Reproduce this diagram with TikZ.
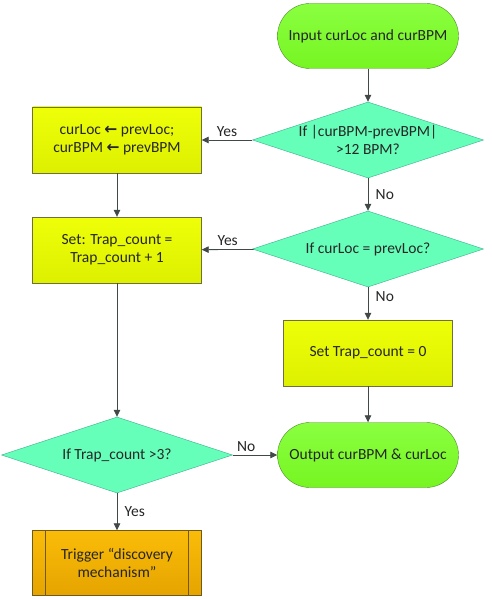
\documentclass[tikz,border=0pt]{standalone}
\usepackage{fontspec}
\setmainfont{Carlito}
\newfontfamily\arrowfont{DejaVu Sans}
\usetikzlibrary{shapes.geometric,arrows.meta}

\definecolor{termtop}{HTML}{8AFF40}
\definecolor{termbot}{HTML}{76F522}
\definecolor{termedge}{HTML}{4E8A2C}
\definecolor{decfill}{HTML}{66FFBA}
\definecolor{decedge}{HTML}{3AAE8A}
\definecolor{proctop}{HTML}{EEFF08}
\definecolor{procbot}{HTML}{DDF000}
\definecolor{procedge}{HTML}{6E6E40}
\definecolor{subtop}{HTML}{FABC08}
\definecolor{subbot}{HTML}{E6A400}
\definecolor{subedge}{HTML}{6E5A20}
\definecolor{flowline}{HTML}{404848}

\begin{document}
\begin{tikzpicture}[x=1pt, y=-1pt,
    font=\fontsize{15.5}{18}\selectfont, text=black!85,
    term/.style={rectangle, rounded corners=32.5pt, draw=termedge, top color=termtop, bottom color=termbot, minimum width=181pt, minimum height=65pt},
    dec/.style={diamond, draw=decedge, fill=decfill, minimum width=231pt, minimum height=76pt, inner sep=0pt},
    proc/.style={rectangle, draw=procedge, top color=proctop, bottom color=procbot, minimum width=169pt, minimum height=66pt, align=center},
    subproc/.style={rectangle, draw=subedge, top color=subtop, bottom color=subbot, minimum width=169pt, minimum height=65pt, align=center,
        path picture={
            \draw[subedge] ([xshift=13pt]path picture bounding box.north west) -- ([xshift=13pt]path picture bounding box.south west);
            \draw[subedge] ([xshift=-13pt]path picture bounding box.north east) -- ([xshift=-13pt]path picture bounding box.south east);
        }},
    flow/.style={draw=flowline, line width=0.8pt, -{Triangle[length=7pt, width=6.5pt]}},
    ans/.style={font=\fontsize{15.5}{18}\selectfont}
]
    \useasboundingbox (0,0) rectangle (491,599);

    \node[term] (input) at (368, 36) {Input curLoc and curBPM};
    \node[dec, label={[align=center]center:If |curBPM-prevBPM|\\>12 BPM?}] (bpmchk) at (368, 140) {};
    \node[proc] (restore) at (117, 140) {curLoc {\arrowfont\bfseries ←} prevLoc;\\curBPM {\arrowfont\bfseries ←} prevBPM};
    \node[dec, label={center:If curLoc = prevLoc?}] (locchk) at (368, 249) {};
    \node[proc] (incr) at (117, 250) {Set: Trap\_count =\\Trap\_count + 1};
    \node[proc] (reset) at (368, 353) {Set Trap\_count = 0};
    \node[term] (output) at (368, 455) {Output curBPM \& curLoc};
    \node[dec, label={center:If Trap\_count >3?}] (trapchk) at (117, 455) {};
    \node[subproc] (trigger) at (117, 563) {Trigger “discovery\\mechanism”};

    \draw[flow] (input) -- (bpmchk);
    \draw[flow] (bpmchk) -- node[ans, above] {Yes} (restore);
    \draw[flow] (bpmchk) -- node[ans, right, xshift=4pt] {No} (locchk);
    \draw[flow] (restore) -- (incr);
    \draw[flow] (locchk) -- node[ans, above] {Yes} (incr);
    \draw[flow] (locchk) -- node[ans, right, xshift=4pt, pos=0.3] {No} (reset);
    \draw[flow] (reset) -- (output);
    \draw[flow] (incr) -- (trapchk);
    \draw[flow] (trapchk) -- node[ans, above, pos=0.3] {No} (output);
    \draw[flow] (trapchk) -- node[ans, right, xshift=4pt] {Yes} (trigger);
\end{tikzpicture}
\end{document}
